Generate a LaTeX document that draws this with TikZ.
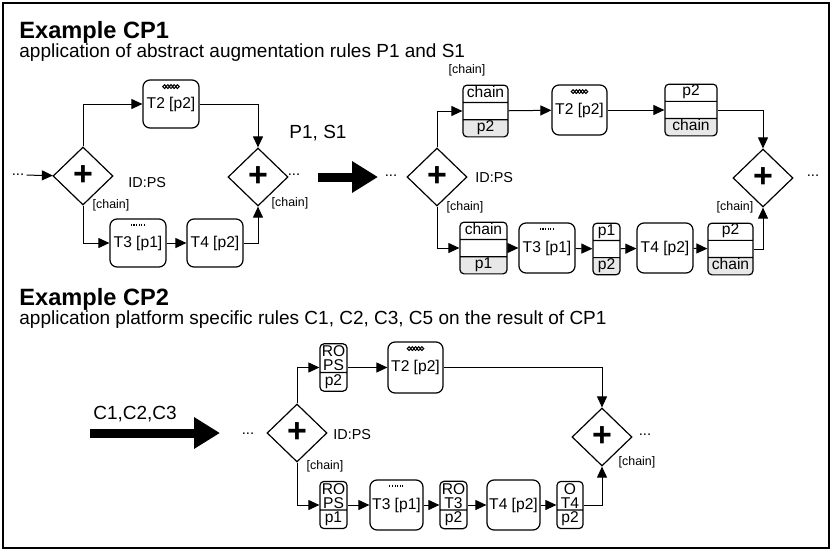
\documentclass[tikz,border=0pt]{standalone}
\usepackage{fontspec}
\setmainfont{Liberation Sans}
\usetikzlibrary{arrows.meta,shapes.geometric,shapes.multipart,positioning}

\tikzset{
  flow/.style={-{Triangle[length=5.5pt,width=5pt]}, line width=0.5pt},
  bigarrow/.style={line width=4.5pt, -{Triangle[length=13pt,width=15pt]}},
  gate/.style={diamond, draw, line width=0.6pt, minimum width=30pt, minimum height=29pt,
    inner sep=0pt, font=\fontsize{17}{17}\selectfont\bfseries},
  task/.style={draw, rounded corners=3.5pt, line width=0.6pt, minimum width=28pt,
    minimum height=24pt, inner sep=0pt, font=\fontsize{7.8}{8}\selectfont},
  buf/.style={rectangle split, rectangle split parts=3, draw, rounded corners=2pt,
    line width=0.6pt, inner xsep=1pt, inner ysep=0pt, font=\fontsize{7.8}{8}\selectfont,
    rectangle split part fill={white,white,gray!18}},
  pfbox/.style={rectangle split, rectangle split parts=2, draw, rounded corners=2pt,
    line width=0.6pt, inner xsep=0.5pt, inner ysep=0.6pt, align=center,
    minimum width=13.5pt, font=\fontsize{7.8}{7}\selectfont},
  tag/.style={font=\fontsize{6.2}{6}\selectfont, inner sep=0pt},
  idtag/.style={font=\fontsize{7.2}{8}\selectfont, inner sep=0pt, anchor=west},
  dots/.style={font=\fontsize{7.4}{8}\selectfont, inner sep=1pt},
  rule/.style={font=\fontsize{9.5}{10}\selectfont, inner sep=0pt},
  head/.style={font=\fontsize{11.8}{12}\selectfont\bfseries, anchor=base west, inner sep=0pt},
  sub/.style={font=\fontsize{9.5}{11}\selectfont, anchor=base west, inner sep=0pt},
}

\begin{document}
\begin{tikzpicture}[x=0.5pt,y=-0.5pt]
\useasboundingbox (0,0) rectangle (831,552);
\draw[line width=0.8pt] (3,3) rectangle (829,548);

% headings
\node[head] (h1) at (19,38) {Example CP1};
\node[sub] (s1) at (19,57) {application of abstract augmentation rules P1 and S1};
\node[head] (h2) at (19,305) {Example CP2};
\node[sub] (s2) at (19,324) {application platform specific rules C1, C2, C3, C5 on the result of CP1};

% CP1, before
\node[dots] (d0) at (18,175) {...};
\node[gate] (g1) at (83,176) {+};
\node[task] (t2a) at (171,104) {T2 [p2]};
\node[task] (t3a) at (138,243) {T3 [p1]};
\node[task] (t4a) at (215,243) {T4 [p2]};
\node[gate] (g2) at (258,177) {+};
\node[dots] (d1) at (294,175) {...};
\node[idtag] (id1) at (128,183) {ID:PS};
\node[tag] (c1) at (111,205) {[chain]};
\node[tag] (c2) at (290,203) {[chain]};

\draw[flow] (d0) -- (g1);
\draw[flow] (g1.north) |- (t2a);
\draw[flow] (t2a) -| (g2.north);
\draw[flow] (g1.south) |- (t3a);
\draw[flow] (t3a) -- (t4a);
\draw[flow] (t4a) -| (g2.south);

\node[rule] (r1) at (318,133) {P1, S1};
\coordinate (a1s) at (318,177);
\coordinate (a1e) at (378,177);
\draw[bigarrow] (a1s) -- (a1e);

% CP1, after
\node[dots] (d2) at (391,176) {...};
\node[gate] (g3) at (437,177) {+};
\node[idtag] (id3) at (475,178) {ID:PS};
\node[tag] (c3) at (467,70) {[chain]};
\node[tag] (c4) at (465,207) {[chain]};
\node[buf, minimum width=22.5pt] (ba) at (485.5,111)
  {chain\strut\nodepart{two}\strut\nodepart{three}p2\strut};
\node[task, minimum width=27.5pt, minimum height=25pt] (t2b) at (579.5,110) {T2 [p2]};
\node[buf, minimum width=26pt] (bb) at (691,110)
  {p2\strut\nodepart{two}\strut\nodepart{three}chain\strut};
\node[gate] (g4) at (763,178) {+};
\node[dots] (d3) at (813,176) {...};
\node[tag] (c5) at (735,207) {[chain]};
\node[buf, minimum width=23.5pt] (bc) at (483.5,248)
  {chain\strut\nodepart{two}\strut\nodepart{three}p1\strut};
\node[task, minimum height=25pt] (t3b) at (547,248) {T3 [p1]};
\node[buf, minimum width=13.5pt] (bd) at (606.5,249)
  {p1\strut\nodepart{two}\strut\nodepart{three}p2\strut};
\node[task, minimum height=25pt] (t4b) at (665,248) {T4 [p2]};
\node[buf, minimum width=22.5pt] (be) at (730.5,249)
  {p2\strut\nodepart{two}\strut\nodepart{three}chain\strut};

\draw[flow] (g3.north) |- (ba);
\draw[flow] (ba) -- (t2b);
\draw[flow] (t2b) -- (bb);
\draw[flow] (bb) -| (g4.north);
\draw[flow] (g3.south) |- (bc);
\draw[flow] (bc) -- (t3b);
\draw[flow] (t3b) -- (bd);
\draw[flow] (bd) -- (t4b);
\draw[flow] (t4b) -- (be);
\draw[flow] (be) -| (g4.south);

% CP2
\node[rule] (r2) at (135,414) {C1,C2,C3};
\coordinate (a2s) at (90,433);
\coordinate (a2e) at (220,433);
\draw[bigarrow] (a2s) -- (a2e);

\node[dots] (d4) at (248,434) {...};
\node[gate] (g5) at (297,433) {+};
\node[idtag] (id5) at (333,435) {ID:PS};
\node[tag] (c6) at (325,466) {[chain]};
\node[pfbox] (bf) at (333.5,367.5) {RO\\PS\nodepart{two}p2\strut};
\node[task, minimum width=27.5pt, minimum height=25.5pt] (t2c) at (415.5,367.5) {T2 [p2]};
\node[gate] (g6) at (602,437) {+};
\node[dots] (d5) at (645,435) {...};
\node[tag] (c7) at (637,462) {[chain]};
\node[pfbox] (bg) at (333.5,505) {RO\\PS\nodepart{two}p1\strut};
\node[task, minimum width=26.5pt, minimum height=25pt] (t3c) at (396.5,505) {T3 [p1]};
\node[pfbox] (bh) at (453.5,505) {RO\\T3\nodepart{two}p2\strut};
\node[task, minimum width=26.5pt, minimum height=25pt] (t4c) at (513.5,505) {T4 [p2]};
\node[pfbox, minimum width=13pt] (bi) at (570,505) {O\\T4\nodepart{two}p2\strut};

\draw[flow] (g5.north) |- (bf);
\draw[flow] (bf) -- (t2c);
\draw[flow] (t2c) -| (g6.north);
\draw[flow] (g5.south) |- (bg);
\draw[flow] (bg) -- (t3c);
\draw[flow] (t3c) -- (bh);
\draw[flow] (bh) -- (t4c);
\draw[flow] (t4c) -- (bi);
\draw[flow] (bi) -| (g6.south);

% task markers
\foreach \t in {t2a,t2b,t2c}
  \foreach \i in {-2,...,2}
    \draw[line width=0.5pt] ([xshift=\i*1.6pt,yshift=-3.6pt]\t.north) circle (0.95pt);
\foreach \t in {t3a,t3b,t3c}
  \foreach \i in {-3,...,2}
    \draw[line width=0.55pt] ([xshift=\i*1.3pt+0.6pt,yshift=-2.6pt]\t.north) -- ++(0,-1.3pt);

\end{tikzpicture}
\end{document}
